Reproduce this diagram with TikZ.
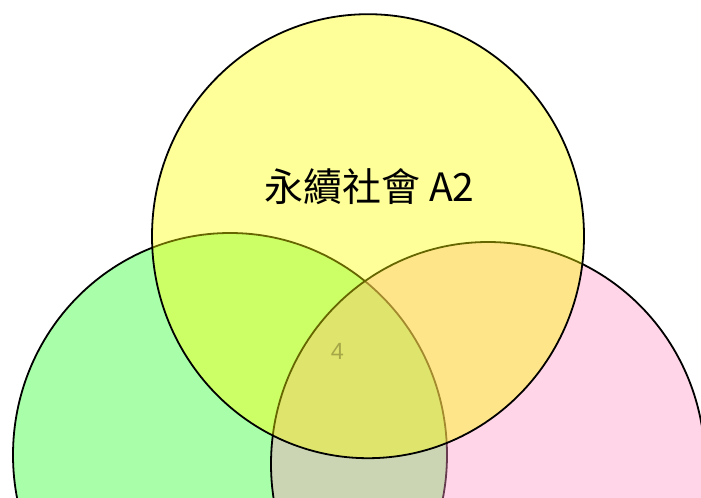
\documentclass[tikz,border=0pt]{standalone}
\usepackage{fontspec}
\setmainfont{Liberation Serif}
\newfontfamily\cjk{Noto Sans CJK TC}
\newfontfamily\numfont{Liberation Sans}
\definecolor{cgreen}{RGB}{42,255,42}
\definecolor{cpink}{RGB}{255,150,197}
\definecolor{cyellow}{RGB}{255,255,0}
\definecolor{numcol}{RGB}{166,168,72}
\begin{document}
\begin{tikzpicture}[x=1bp,y=-1bp,
  setcircle/.style={draw=black,line width=1.8bp,fill opacity=0.4}]
\useasboundingbox (0,0) rectangle (701,498);
\clip (0,0) rectangle (701,498);
\fill[white] (0,0) rectangle (701,498);
\draw[setcircle,fill=cgreen] (230,455) ellipse [x radius=217bp, y radius=222bp];
\draw[setcircle,fill=cpink] (488,464) ellipse [x radius=217bp, y radius=222bp];
\draw[setcircle,fill=cyellow] (368,236.2) ellipse [x radius=216bp, y radius=222bp];
\node[font=\cjk\fontsize{39bp}{42bp}\selectfont,text=black] (lab) at (369.5,187) {永續社會 A2};
\node[font=\numfont\fontsize{23.5bp}{26bp}\selectfont,text=numcol] (num) at (337.5,351.5) {4};
\end{tikzpicture}
\end{document}
